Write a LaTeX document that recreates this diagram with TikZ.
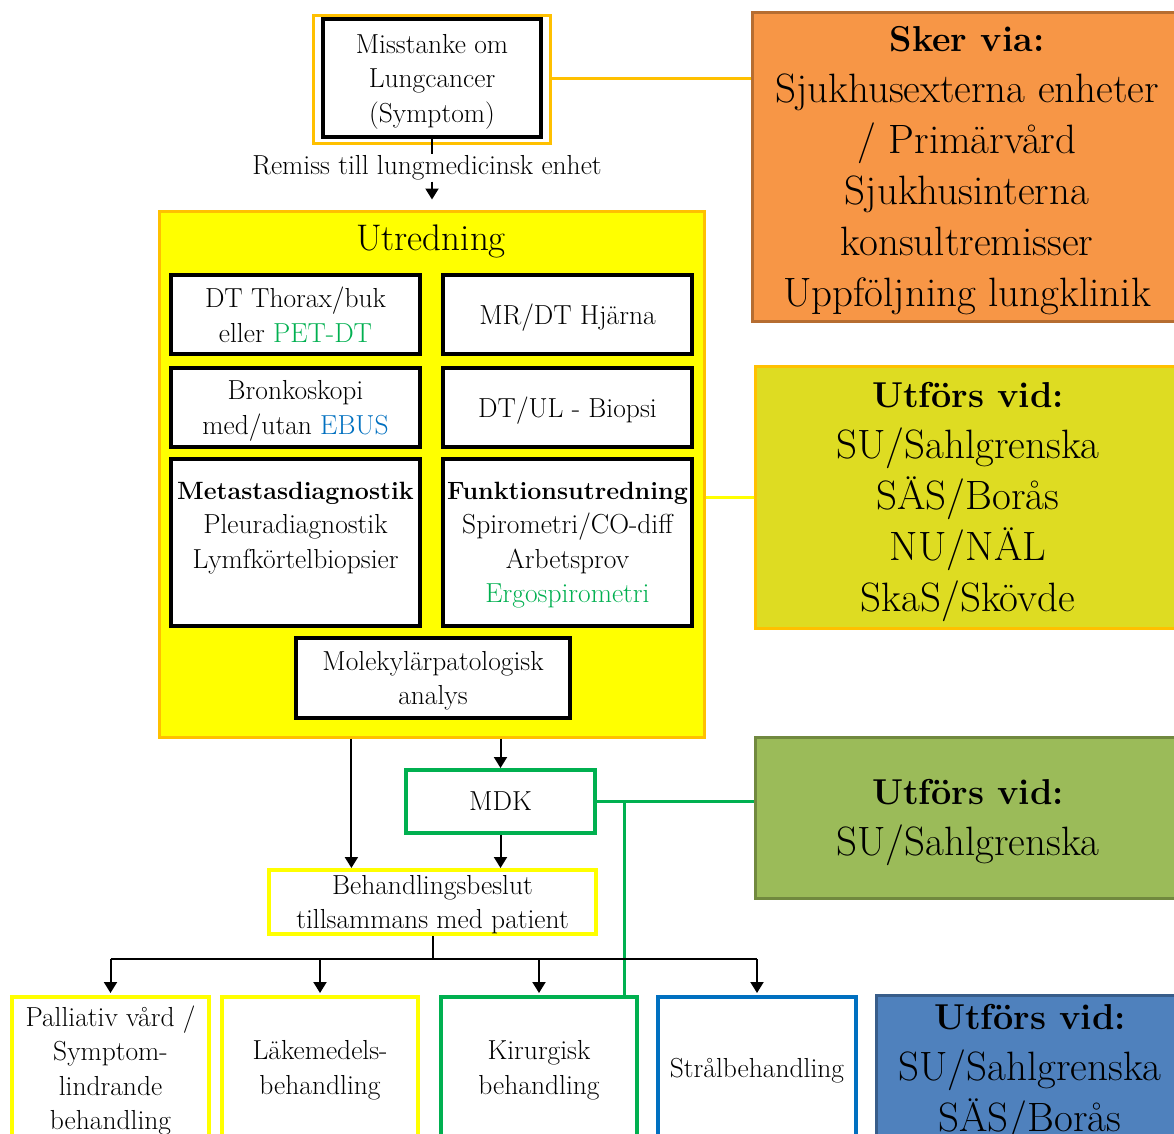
\documentclass[tikz,border=0pt]{standalone}
\usepackage{fontspec}
\usetikzlibrary{arrows.meta,calc}
\definecolor{gold}{HTML}{FFC000}
\definecolor{yel}{HTML}{FFFF00}
\definecolor{orfill}{HTML}{F79646}
\definecolor{ordraw}{HTML}{B66D31}
\definecolor{ygfill}{HTML}{DEDC22}
\definecolor{grfill}{HTML}{9BBB59}
\definecolor{grdraw}{HTML}{71893F}
\definecolor{blfill}{HTML}{4F81BD}
\definecolor{bldraw}{HTML}{385D8A}
\definecolor{gr}{HTML}{00B050}
\definecolor{bl}{HTML}{0070C0}
\newcommand\myhd[1]{{\fontsize{36}{51}\selectfont\bfseries #1}}
\newcommand\mysb[1]{{\fontsize{25}{34.5}\selectfont\bfseries #1}}
\begin{document}
\begin{tikzpicture}[x=1pt,y=-1pt,
  sm/.style={font=\fontsize{27.5}{34.5}\selectfont},
  big/.style={font=\fontsize{41}{51}\selectfont},
  box/.style={rectangle, inner sep=0pt, align=center, text depth=0pt},
  bbox/.style={box, draw=black, line width=4pt, fill=white, sm},
  obox/.style={box, line width=4pt, fill=white, sm},
  side/.style={box, line width=3pt, big},
  conn/.style={line width=2pt, -{Triangle[width=13pt,length=11pt]}},
  plain/.style={line width=2pt}
]
\useasboundingbox (0,0) rectangle (1174,1133);
\clip (0,0) rectangle (1174,1133);

% top
\node[box, draw=gold, line width=3pt, minimum width=237pt, minimum height=128pt] (misout) at (431.5,79) {};
\node[bbox, minimum width=218pt, minimum height=118pt] (mis) at (432,78) {Misstanke om\\Lungcancer\\(Symptom)};

\node[side, draw=ordraw, fill=orfill, minimum width=430pt, minimum height=309pt] (sker) at (967,166.5)
  {\myhd{Sker via:}\\Sjukhusexterna enheter\\/ Primärvård\\Sjukhusinterna\\konsultremisser\\Uppföljning lungklinik};

% Utredning
\node[box, draw=gold, fill=yel, line width=3pt, minimum width=545pt, minimum height=526pt] (utred) at (431.5,474) {};
\node[box, font=\fontsize{37}{40}\selectfont] (utitle) at (431,238) {Utredning};

\node[bbox, minimum width=249pt, minimum height=79pt] (dt) at (295.5,314.5) {DT Thorax/buk\\eller \textcolor{gr}{PET-DT}};
\node[bbox, minimum width=249pt, minimum height=79pt] (mr) at (567.5,314.5) {MR/DT Hjärna};
\node[bbox, minimum width=249pt, minimum height=79pt] (bronk) at (295.5,407.5) {Bronkoskopi\\med/utan \textcolor{bl}{EBUS}};
\node[bbox, minimum width=249pt, minimum height=79pt] (biop) at (567.5,407.5) {DT/UL - Biopsi};
\node[bbox, minimum width=249pt, minimum height=167pt] (meta) at (295.5,542.5) {\mysb{Metastasdiagnostik}\\Pleuradiagnostik\\Lymfkörtelbiopsier\\\strut};
\node[bbox, minimum width=249pt, minimum height=167pt] (funk) at (567.5,542.5) {\mysb{Funktionsutredning}\\Spirometri/CO-diff\\Arbetsprov\\\textcolor{gr}{Ergospirometri}};
\node[bbox, minimum width=274pt, minimum height=80pt] (mol) at (433,678) {Molekylärpatologisk\\analys};

\node[side, draw=gold, fill=ygfill, minimum width=426pt, minimum height=262pt] (utf1) at (968,497)
  {\myhd{Utförs vid:}\\SU/Sahlgrenska\\SÄS/Borås\\NU/NÄL\\SkaS/Skövde};

% MDK and decision
\node[obox, draw=gr, minimum width=189pt, minimum height=63pt] (mdk) at (500.5,801.5) {MDK};
\node[side, draw=grdraw, fill=grfill, minimum width=426pt, minimum height=161pt] (utf2) at (968,817.5)
  {\myhd{Utförs vid:}\\SU/Sahlgrenska};
\node[obox, draw=yel, minimum width=327pt, minimum height=64pt] (beh) at (432.5,902) {Behandlingsbeslut\\tillsammans med patient};

% bottom row
\node[obox, draw=yel, minimum width=197pt, minimum height=141pt] (pal) at (110.5,1067.5) {Palliativ vård /\\Symptom-\\lindrande\\behandling};
\node[obox, draw=yel, minimum width=196pt, minimum height=141pt] (lak) at (320,1067.5) {Läkemedels-\\behandling};
\node[obox, draw=gr, minimum width=196pt, minimum height=141pt] (kir) at (539,1067.5) {Kirurgisk\\behandling};
\node[obox, draw=bl, minimum width=198pt, minimum height=141pt] (str) at (757,1067.5) {Strålbehandling};
\node[side, draw=bldraw, fill=blfill, minimum width=308pt, minimum height=145pt] (utf3) at (1030,1067.5)
  {\myhd{Utförs vid:}\\SU/Sahlgrenska\\SÄS/Borås};

% connectors
\draw[gold, line width=3pt] (misout.east |- mis.east) -- (mis.east -| sker.west);
\node[sm, fill=white, inner sep=1pt] (remiss) at (427,168) {Remiss till lungmedicinsk enhet};
\draw[plain] (mis.south) -- (remiss.north -| mis.south);
\draw[conn] (remiss.south -| mis.south) -- ($(mis.south |- utred.north)+(0,-10)$);

\draw[yel, line width=3pt] (utf1.west) -- (utf1.west -| utred.east);

\draw[conn] (mdk.north |- utred.south) -- (mdk.north);
\coordinate (lft) at ($(beh.north west)!0.255!(beh.north east)$);
\draw[conn] (lft |- utred.south) -- (lft);
\draw[conn] (mdk.south) -- (mdk.south |- beh.north);

\draw[gr, line width=3pt] (mdk.east) -- (mdk.east -| utf2.west);
\coordinate (gj) at ($(mdk.east)+(27,0)$);
\draw[gr, line width=3pt] (gj) -- (gj |- kir.north);

\coordinate (bus) at ($(beh.south)+(0,23)$);
\draw[plain] (beh.south) -- (bus);
\draw[plain] (pal.north |- bus) -- (str.north |- bus);
\draw[conn] (pal.north |- bus) -- ($(pal.north)+(0,-2)$);
\draw[conn] (lak.north |- bus) -- ($(lak.north)+(0,-2)$);
\draw[conn] (kir.north |- bus) -- ($(kir.north)+(0,-2)$);
\draw[conn] (str.north |- bus) -- ($(str.north)+(0,-2)$);
\end{tikzpicture}
\end{document}
